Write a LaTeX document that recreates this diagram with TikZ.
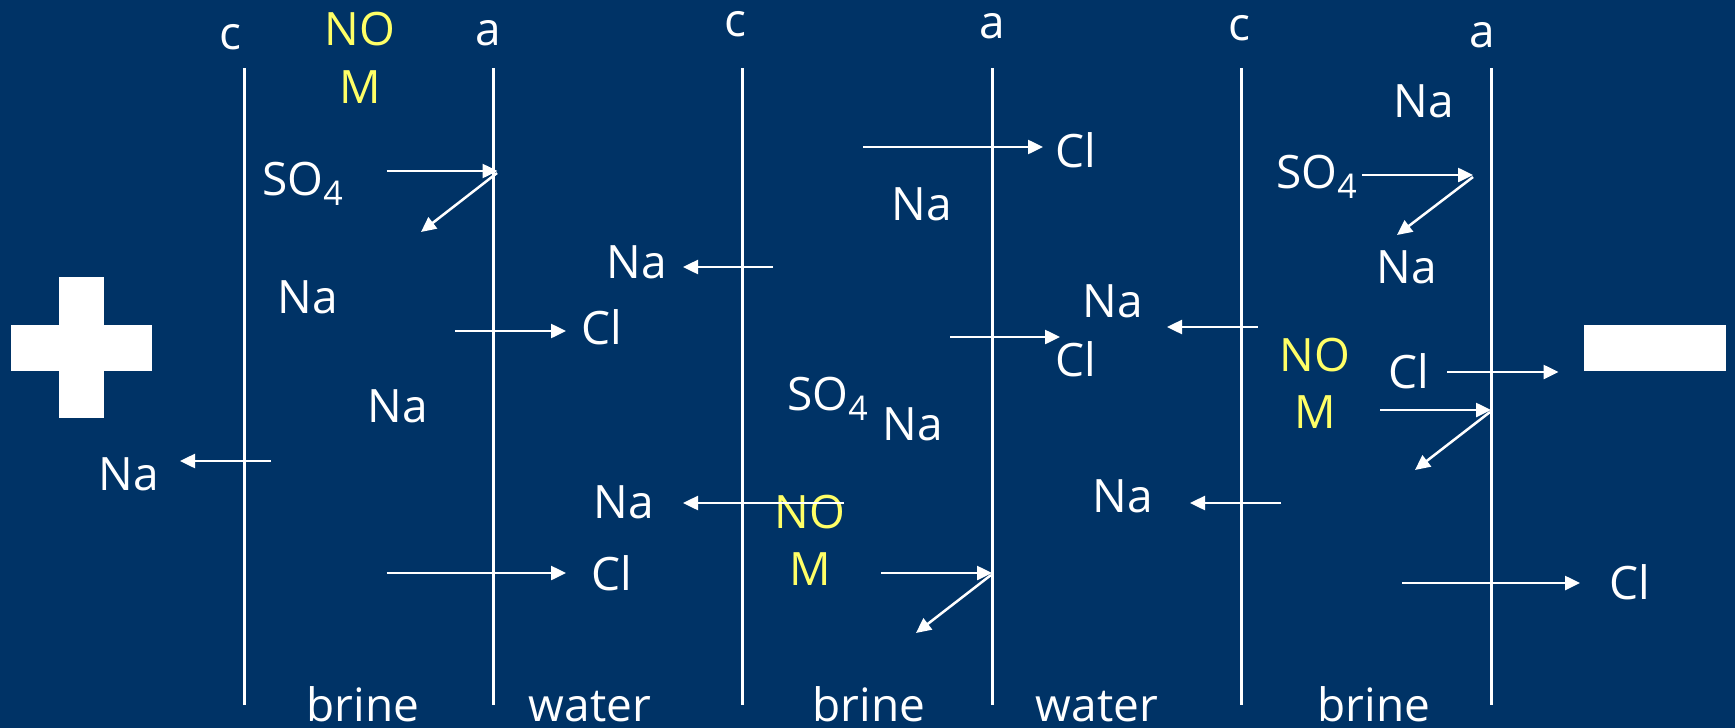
\documentclass[tikz,border=0pt]{standalone}
\usepackage{fontspec}
\setmainfont{Open Sans}
\usetikzlibrary{arrows.meta}
\definecolor{bgnavy}{HTML}{003366}
\definecolor{nomyellow}{HTML}{FFFF66}
\newcommand{\sulfate}{SO\raisebox{-10pt}{\fontsize{34}{34}\selectfont 4}}
\begin{document}
\begin{tikzpicture}[x=1pt,y=-1pt,
  membrane/.style={draw=white,line width=2.5pt},
  flux/.style={draw=white,line width=2.5pt,-{Triangle[length=15pt,width=14pt]}},
  ion/.style={text=white,inner sep=0pt,anchor=base,font=\fontsize{46}{55}\selectfont},
  ionw/.style={ion,anchor=base west},
  nom/.style={ion,text=nomyellow},
  stream/.style={ion,text depth=0pt},
  electrode/.style={fill=white}]
  % background and page size
  \fill[bgnavy] (0,0) rectangle (1735,728);
  \useasboundingbox (0,0) rectangle (1735,728);

  % membranes
  \foreach \n/\x in {c1/244.5,a1/493.5,c2/742.5,a2/992.5,c3/1241.5,a3/1491.5}{
    \coordinate (\n top) at (\x,68);
    \coordinate (\n bot) at (\x,705);
    \draw[membrane] (\n top) -- (\n bot);
  }

  % membrane labels
  \node[ion] (lc1) at (230,49) {c};
  \node[ion] (la1) at (488,45) {a};
  \node[ion] (lc2) at (735,36) {c};
  \node[ion] (la2) at (992,38) {a};
  \node[ion] (lc3) at (1239,40) {c};
  \node[ion] (la3) at (1482,47) {a};

  % electrodes
  \fill[electrode] (11,325) rectangle (152,371);
  \fill[electrode] (58.5,277) rectangle (103.7,418);
  \fill[electrode] (1584,325) rectangle (1726,371);

  % natural organic matter
  \node[nom] (no1) at (360,45) {NO};
  \node[nom] (m1) at (360,103) {M};
  \node[nom] (no2) at (810,528) {NO};
  \node[nom] (m2) at (810,585) {M};
  \node[nom] (no3) at (1315,371) {NO};
  \node[nom] (m3) at (1315,428) {M};

  % ions
  \node[ionw] (s1) at (262,195) {\sulfate};
  \node[ion] (na1) at (308,313) {Na};
  \node[ion] (na2) at (398,422) {Na};
  \node[ion] (na3) at (129,490) {Na};
  \node[ion] (cl1) at (602,344) {Cl};
  \node[ion] (cl2) at (612,590) {Cl};
  \node[ion] (na4) at (637,278) {Na};
  \node[ion] (na5) at (624,518) {Na};
  \node[ion] (cl3) at (1076,167) {Cl};
  \node[ion] (na6) at (922,220) {Na};
  \node[ion] (na7) at (1113,317) {Na};
  \node[ion] (cl4) at (1076,376) {Cl};
  \node[ionw] (s2) at (787,410) {\sulfate};
  \node[ion] (na8) at (913,440) {Na};
  \node[ion] (na9) at (1123,512) {Na};
  \node[ion] (na10) at (1424,117) {Na};
  \node[ionw] (s3) at (1276,188) {\sulfate};
  \node[ion] (na11) at (1407,283) {Na};
  \node[ion] (cl5) at (1409,388) {Cl};
  \node[ion] (cl6) at (1630,599) {Cl};

  % compartment labels
  \node[stream] (b1) at (363,721) {brine};
  \node[stream] (w1) at (590,721) {water};
  \node[stream] (b2) at (869,721) {brine};
  \node[stream] (w2) at (1097,721) {water};
  \node[stream] (b3) at (1374,721) {brine};

  % fluxes across membranes
  \coordinate (f1s) at (386.5,171);  \coordinate (f1e) at (497.5,171);
  \coordinate (r1s) at (497,173);    \coordinate (r1e) at (421,232);
  \coordinate (f2s) at (455,331);    \coordinate (f2e) at (566,331);
  \coordinate (f3s) at (271,461);    \coordinate (f3e) at (180,461);
  \coordinate (f4s) at (386.5,573);  \coordinate (f4e) at (566,573);
  \coordinate (f5s) at (773,267);    \coordinate (f5e) at (683,267);
  \coordinate (f6s) at (844,503);    \coordinate (f6e) at (683,503);
  \coordinate (f7s) at (863,147);    \coordinate (f7e) at (1043,147);
  \coordinate (f8s) at (950,337);    \coordinate (f8e) at (1060,337);
  \coordinate (f9s) at (881,573);    \coordinate (f9e) at (992,573);
  \coordinate (r9s) at (991,575);    \coordinate (r9e) at (916,633);
  \coordinate (f10s) at (1257.5,327); \coordinate (f10e) at (1167,327);
  \coordinate (f11s) at (1362,175);  \coordinate (f11e) at (1473,175);
  \coordinate (r11s) at (1473,177);  \coordinate (r11e) at (1397,235);
  \coordinate (f12s) at (1447,372);  \coordinate (f12e) at (1558.5,372);
  \coordinate (f13s) at (1380,410);  \coordinate (f13e) at (1491,410);
  \coordinate (r13s) at (1490,412);  \coordinate (r13e) at (1415,470);
  \coordinate (f14s) at (1281,503);  \coordinate (f14e) at (1190,503);
  \coordinate (f15s) at (1402,583);  \coordinate (f15e) at (1580,583);

  \foreach \a in {f1,r1,f2,f3,f4,f5,f6,f7,f8,f9,r9,f10,f11,r11,f12,f13,r13,f14,f15}{
    \draw[flux] (\a s) -- (\a e);
  }
\end{tikzpicture}
\end{document}
